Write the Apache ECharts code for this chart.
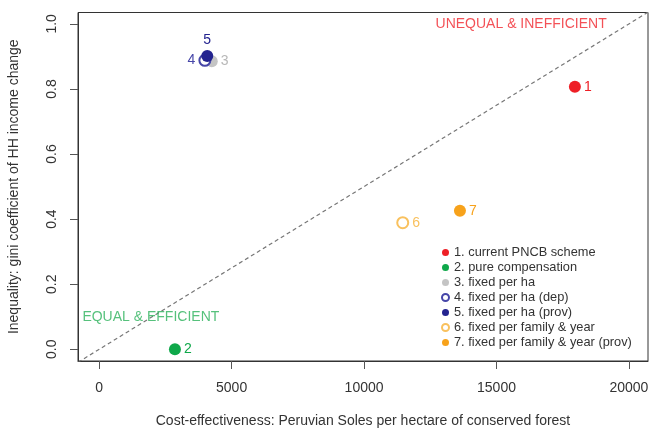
<!DOCTYPE html>
<html>
<head>
<meta charset="utf-8">
<script src="https://cdn.jsdelivr.net/npm/echarts@6/dist/echarts.min.js"></script>
<style>
  html, body { margin: 0; padding: 0; background: #fff; }
  #chart { width: 658px; height: 431px; }
</style>
</head>
<body>
<div id="chart"></div>
<script>
// Payment schemes: cost per hectare vs. inequality of household income change
const schemeNames = [
  '1. current PNCB scheme',
  '2. pure compensation',
  '3. fixed per ha',
  '4. fixed per ha (dep)',
  '5. fixed per ha (prov)',
  '6. fixed per family & year',
  '7. fixed per family & year (prov)'
];
const pointLabels = ['1', '2', '3', '4', '5', '6', '7'];
const costPerHa = [17960, 2860, 4250, 3990, 4080, 11460, 13620];
const giniIncome = [0.807, 0.0, 0.885, 0.888, 0.901, 0.389, 0.426];
const schemeColors = ['#ee1f26', '#0fa84a', '#c4c4c4', '#4646a8', '#23238f', '#f9c15e', '#f7a21b'];
const schemeHollow = [false, false, false, true, false, true, false];
const labelSides = ['right', 'right', 'right', 'left', 'top', 'right', 'right'];

const xTicks = [0, 5000, 10000, 15000, 20000];
const yTicks = [0.0, 0.2, 0.4, 0.6, 0.8, 1.0];
const xLimits = [-800, 20720];
const yLimits = [-0.036, 1.035];

// Parity line: one unit of inequality per 20000 soles/ha
const parityLine = [[-800, -0.04], [20720, 1.036]];

// Quadrant captions
const captions = [
  { text: 'UNEQUAL & INEFFICIENT', x: 15930, y: 1.0, color: '#f0262d' },
  { text: 'EQUAL & EFFICIENT', x: 1950, y: 0.1, color: '#2cb25b' }
];

const font = '"Liberation Sans", Arial, Helvetica, sans-serif';

function markStyle(i, bw) {
  return schemeHollow[i]
    ? { color: schemeColors[i], borderColor: schemeColors[i], borderWidth: bw, opacity: 1 }
    : { color: schemeColors[i], borderWidth: 0, opacity: 1 };
}

const pointSeries = schemeNames.map((name, i) => ({
  name: name,
  type: 'scatter',
  z: 3 + i,
  symbol: schemeHollow[i] ? 'emptyCircle' : 'circle',
  symbolSize: schemeHollow[i] ? 11 : 12,
  itemStyle: markStyle(i, 1.6),
  label: {
    show: true,
    position: labelSides[i],
    distance: 3,
    formatter: pointLabels[i],
    color: schemeColors[i] === '#c4c4c4' ? '#b8b8b8' : schemeColors[i],
    fontFamily: font,
    fontSize: 14
  },
  emphasis: { disabled: true },
  data: [[costPerHa[i], giniIncome[i]]]
}));

const chart = echarts.init(document.getElementById('chart'), null, { renderer: 'canvas' });

chart.setOption({
  animation: false,
  backgroundColor: '#fff',
  grid: {
    left: 78, right: 10, top: 12.5, bottom: 70,
    outerBoundsMode: 'none',
    containLabel: false,
    show: true, borderColor: '#333', borderWidth: 1, backgroundColor: 'transparent'
  },
  xAxis: {
    type: 'value',
    min: xLimits[0], max: xLimits[1],
    interval: 5000,
    name: 'Cost-effectiveness: Peruvian Soles per hectare of conserved forest',
    nameLocation: 'middle',
    nameGap: 53,
    nameTextStyle: { fontFamily: font, fontSize: 14, color: '#333' },
    axisLine: { show: true, onZero: false, lineStyle: { color: '#333' } },
    axisTick: { show: true, length: 8, lineStyle: { color: '#555' },
      customValues: xTicks },
    axisLabel: { margin: 20, fontFamily: font, fontSize: 14, color: '#333',
      customValues: xTicks, formatter: v => String(v) },
    splitLine: { show: false }
  },
  yAxis: {
    type: 'value',
    min: yLimits[0], max: yLimits[1],
    name: 'Inequality: gini coefficient of HH income change',
    nameLocation: 'middle',
    nameRotate: 90,
    nameGap: 57,
    nameTextStyle: { fontFamily: font, fontSize: 14, color: '#333' },
    axisLine: { show: true, onZero: false, lineStyle: { color: '#333' } },
    axisTick: { show: true, length: 8, lineStyle: { color: '#555' },
      customValues: yTicks },
    axisLabel: { margin: 19, rotate: 90, fontFamily: font, fontSize: 14, color: '#333',
      customValues: yTicks, formatter: v => v.toFixed(1) },
    splitLine: { show: false }
  },
  legend: {
    orient: 'vertical',
    left: 436, top: 241,
    itemWidth: 7, itemHeight: 7,
    itemGap: 2,
    selectedMode: false,
    textStyle: { fontFamily: font, fontSize: 12.8, color: '#333', lineHeight: 13, padding: [0, 0, 0, 0] },
    data: schemeNames.map((n, i) => ({
      name: n,
      icon: schemeHollow[i] ? 'emptyCircle' : 'circle',
      itemStyle: markStyle(i, 1.3)
    }))
  },
  series: [
    {
      name: 'parity',
      type: 'line',
      z: 1,
      silent: true,
      symbol: 'none',
      clip: true,
      lineStyle: { color: '#777', width: 1.2, type: [4, 3] },
      data: parityLine
    },
    {
      name: 'captions',
      type: 'scatter',
      z: 2,
      silent: true,
      symbolSize: 0,
      data: captions.map(c => ({
        value: [c.x, c.y],
        label: {
          show: true, position: 'inside', formatter: c.text,
          color: c.color, fontFamily: font, fontSize: 14
        }
      }))
    },
    ...pointSeries
  ]
});
</script>
</body>
</html>
